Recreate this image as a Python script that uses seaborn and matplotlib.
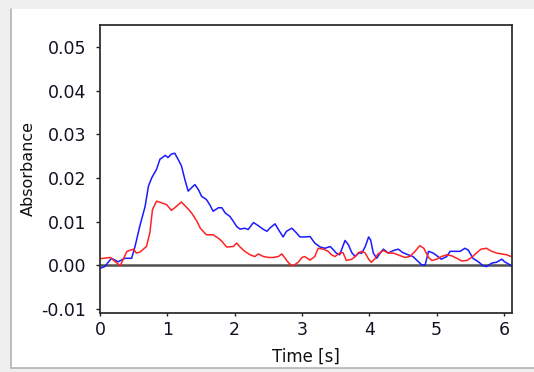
import numpy as np
import pandas as pd
import matplotlib
matplotlib.use("Agg")
import matplotlib.pyplot as plt
import seaborn as sns
from matplotlib.patches import Rectangle
from matplotlib.lines import Line2D

# ---- data (time in s, absorbance) ----
blue_t = [0.00, 0.07, 0.17, 0.27, 0.37, 0.47, 0.52, 0.59, 0.67, 0.72, 0.77, 0.84, 0.89, 0.97,
          1.01, 1.06, 1.11, 1.16, 1.21, 1.26, 1.31, 1.36, 1.41, 1.46, 1.51, 1.58, 1.63, 1.68,
          1.76, 1.81, 1.86, 1.93, 1.98, 2.03, 2.08, 2.15, 2.20, 2.28, 2.35, 2.43, 2.48, 2.52,
          2.60, 2.65, 2.72, 2.77, 2.85, 2.92, 2.97, 3.04, 3.12, 3.19, 3.27, 3.34, 3.42, 3.47,
          3.51, 3.56, 3.64, 3.69, 3.74, 3.79, 3.84, 3.89, 3.94, 3.99, 4.02, 4.06, 4.11, 4.16,
          4.21, 4.28, 4.36, 4.43, 4.50, 4.58, 4.65, 4.73, 4.78, 4.83, 4.88, 4.95, 5.02, 5.07,
          5.15, 5.20, 5.27, 5.35, 5.42, 5.47, 5.54, 5.62, 5.69, 5.74, 5.82, 5.89, 5.97, 6.01,
          6.09, 6.11]
blue_a = [-0.7, -0.3, 1.6, 0.8, 1.6, 1.6, 4.3, 8.9, 13.5, 18.2, 20.1, 22.0, 24.3, 25.2,
          24.7, 25.5, 25.7, 24.3, 22.8, 19.7, 17.0, 17.8, 18.5, 17.4, 15.8, 15.1, 13.9, 12.4,
          13.2, 13.2, 12.0, 11.2, 10.1, 8.9, 8.3, 8.5, 8.2, 9.8, 9.1, 8.2, 7.8, 8.5,
          9.5, 8.2, 6.5, 7.8, 8.5, 7.4, 6.5, 6.5, 6.6, 5.1, 4.2, 3.9, 4.3, 3.5,
          2.8, 2.4, 5.7, 4.7, 2.9, 2.0, 2.8, 2.8, 4.3, 6.5, 5.8, 2.8, 1.6, 2.8,
          3.7, 2.8, 3.4, 3.7, 2.9, 2.4, 2.0, 0.8, 0.1, 0.1, 3.2, 2.8, 2.0, 1.4,
          2.0, 3.2, 3.2, 3.2, 3.9, 3.5, 1.6, 0.8, -0.1, -0.3, 0.5, 0.7, 1.4, 0.8,
          0.1, -0.1]

red_t = [0.00, 0.15, 0.30, 0.40, 0.50, 0.54, 0.59, 0.69, 0.74, 0.78, 0.84, 0.92, 0.99, 1.06,
         1.11, 1.21, 1.26, 1.31, 1.36, 1.44, 1.49, 1.58, 1.68, 1.76, 1.81, 1.88, 1.98, 2.03,
         2.08, 2.15, 2.23, 2.30, 2.35, 2.43, 2.50, 2.57, 2.65, 2.70, 2.75, 2.80, 2.85, 2.90,
         2.95, 3.00, 3.04, 3.12, 3.19, 3.24, 3.32, 3.39, 3.44, 3.49, 3.56, 3.61, 3.66, 3.74,
         3.79, 3.84, 3.89, 3.94, 3.99, 4.03, 4.08, 4.13, 4.21, 4.28, 4.36, 4.46, 4.53, 4.60,
         4.68, 4.75, 4.81, 4.88, 4.93, 5.00, 5.07, 5.15, 5.22, 5.30, 5.37, 5.45, 5.52, 5.59,
         5.66, 5.74, 5.82, 5.89, 5.97, 6.04, 6.11]
red_a = [1.5, 1.8, -0.1, 3.2, 3.7, 2.8, 3.0, 4.3, 7.4, 12.8, 14.7, 14.3, 13.9, 12.6,
         13.2, 14.5, 13.7, 12.9, 12.0, 10.1, 8.5, 7.0, 7.0, 6.2, 5.5, 4.2, 4.3, 5.1,
         4.2, 3.2, 2.4, 2.0, 2.6, 2.0, 1.8, 1.8, 2.0, 2.6, 1.6, 0.6, -0.1, 0.2,
         0.8, 1.8, 2.0, 1.2, 2.0, 3.9, 3.7, 3.2, 2.4, 2.0, 2.8, 2.9, 1.1, 1.4,
         2.0, 2.9, 3.2, 2.8, 1.4, 0.7, 1.4, 2.6, 3.4, 2.8, 2.8, 2.2, 1.8, 2.0,
         3.2, 4.5, 3.9, 1.8, 1.1, 1.4, 2.0, 2.4, 2.2, 1.6, 1.0, 1.1, 1.8, 2.8,
         3.7, 3.9, 3.2, 2.8, 2.6, 2.4, 2.0]

x_ticks = [0, 1, 2, 3, 4, 5, 6]
y_ticks = [-0.01, 0.00, 0.01, 0.02, 0.03, 0.04, 0.05]
y_tick_labels = ["-0.01", "0.00", "0.01", "0.02", "0.03", "0.04", "0.05"]

df = pd.concat([
    pd.DataFrame({"Time": blue_t, "Absorbance": np.array(blue_a) / 1000.0, "series": "blue"}),
    pd.DataFrame({"Time": red_t, "Absorbance": np.array(red_a) / 1000.0, "series": "red"}),
], ignore_index=True)

sns.set_style("white")
plt.rcParams["font.family"] = ["DejaVu Sans"]

fig = plt.figure(figsize=(5.34, 3.72), dpi=100, facecolor="#efefef")
# white panel behind everything
panel = Rectangle((11 / 534, 4 / 372), 1 - 11 / 534, (372 - 13) / 372,
                  transform=fig.transFigure, facecolor="white",
                  edgecolor="none", zorder=-10)
fig.add_artist(panel)
fig.add_artist(Line2D([11 / 534, 11 / 534], [4 / 372, 1 - 9 / 372],
                      transform=fig.transFigure, color="#b4b4b4", lw=1.2, zorder=-5))
fig.add_artist(Line2D([11 / 534, 1], [4 / 372, 4 / 372],
                      transform=fig.transFigure, color="#b4b4b4", lw=1.2, zorder=-5))

ax = fig.add_axes([100 / 534, 1 - 313 / 372, 412 / 534, 288 / 372])
ax.set_zorder(5)
ax.set_facecolor("white")

ax.axhline(0, color="#505050", lw=1.8, zorder=1)
sns.lineplot(data=df, x="Time", y="Absorbance", hue="series",
             palette={"blue": "#1a1aff", "red": "#ff2222"},
             sort=False, estimator=None, lw=1.1, legend=False, ax=ax, zorder=2)

ax.set_xlim(0, 6.12)
ax.set_ylim(-0.01094, 0.0551)
ax.set_xticks(x_ticks)
ax.set_yticks(y_ticks)
ax.set_yticklabels(y_tick_labels)
ax.tick_params(axis="both", direction="out", width=1, color="#222222",
               labelsize=12.5, labelcolor="#111122", left=True, bottom=True)
ax.tick_params(axis="y", pad=7, length=3)
ax.tick_params(axis="x", pad=4, length=2)
for s in ax.spines.values():
    s.set_color("#303030")
    s.set_linewidth(1.3)

ax.set_xlabel("Time [s]", fontsize=12, color="#111111", labelpad=6)
ax.set_ylabel("Absorbance", fontsize=11.5, color="#111111", labelpad=4)

fig.savefig("out.png", dpi=100, facecolor=fig.get_facecolor())
